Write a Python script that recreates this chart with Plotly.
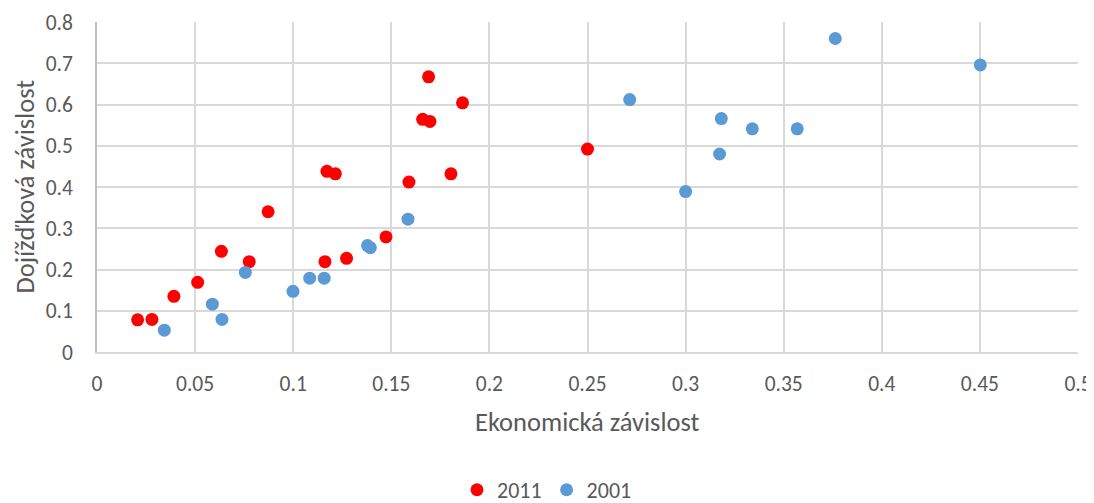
import plotly.graph_objects as go

# 2011 series
x_2011 = [0.0207, 0.0280, 0.0392, 0.0513, 0.0634, 0.0776, 0.0872, 0.1162, 0.1272,
          0.1473, 0.1172, 0.1215, 0.1590, 0.1690, 0.1863, 0.1660, 0.1697, 0.1804, 0.2500]
y_2011 = [0.078, 0.079, 0.135, 0.169, 0.244, 0.219, 0.340, 0.219, 0.227,
          0.279, 0.438, 0.432, 0.412, 0.667, 0.604, 0.564, 0.559, 0.432, 0.492]

# 2001 series
x_2001 = [0.0343, 0.0588, 0.0637, 0.0756, 0.0999, 0.1084, 0.1158, 0.1379, 0.1393,
          0.1585, 0.2715, 0.3000, 0.3173, 0.3182, 0.3340, 0.3569, 0.3763, 0.4502]
y_2001 = [0.053, 0.116, 0.079, 0.193, 0.147, 0.179, 0.179, 0.258, 0.253,
          0.322, 0.612, 0.389, 0.480, 0.566, 0.541, 0.541, 0.760, 0.696]

x_ticks = [0, 0.05, 0.1, 0.15, 0.2, 0.25, 0.3, 0.35, 0.4, 0.45, 0.5]
x_tick_labels = ["0", "0.05", "0.1", "0.15", "0.2", "0.25", "0.3", "0.35", "0.4", "0.45", "0.5"]
y_ticks = [0, 0.1, 0.2, 0.3, 0.4, 0.5, 0.6, 0.7, 0.8]
y_tick_labels = ["0", "0.1", "0.2", "0.3", "0.4", "0.5", "0.6", "0.7", "0.8"]

x_title = "Ekonomická závislost"
y_title = "Dojížďková závislost"

FONT = "Calibri, Lato, 'Open Sans', sans-serif"
GRAY = "#595959"
TICK = 21.5
TITLE = 26.5

fig = go.Figure()
fig.add_trace(go.Scatter(x=x_2011, y=y_2011, mode="markers", name="2011",
                         marker=dict(color="#ff0000", size=13)))
fig.add_trace(go.Scatter(x=x_2001, y=y_2001, mode="markers", name="2001",
                         marker=dict(color="#5b9bd5", size=13)))

fig.update_layout(
    width=1094, height=503,
    margin=dict(l=89, r=24, t=14, b=159, autoexpand=False),
    paper_bgcolor="white", plot_bgcolor="white",
    font=dict(family=FONT, color=GRAY, size=TICK),
    showlegend=True,
    legend=dict(orientation="h", x=0.4587, xanchor="center", y=-0.418, yanchor="middle",
                font=dict(size=22, color=GRAY), itemwidth=30, traceorder="normal"),
    xaxis=dict(range=[0, 0.5], tickvals=x_ticks, ticktext=x_tick_labels,
               showgrid=True, gridcolor="#d9d9d9", gridwidth=1.5,
               zeroline=False, showline=True, linecolor="#d9d9d9", linewidth=1.5,
               ticks="", tickfont=dict(size=TICK, color=GRAY), automargin=False,
               ticklabelstandoff=11),
    yaxis=dict(range=[0, 0.8], tickvals=y_ticks, ticktext=y_tick_labels,
               showgrid=True, gridcolor="#d9d9d9", gridwidth=1.5,
               zeroline=False, showline=True, linecolor="#bfbfbf", linewidth=1.5,
               ticks="", tickfont=dict(size=TICK, color=GRAY), automargin=False,
               ticklabelstandoff=18),
    annotations=[
        dict(text=x_title, xref="paper", yref="paper", x=0.5, y=-70 / 330,
             xanchor="center", yanchor="middle", showarrow=False,
             font=dict(size=TITLE, color=GRAY)),
        dict(text=y_title, xref="paper", yref="paper", x=(16.5 - 89) / 981, y=0.5,
             xanchor="center", yanchor="middle", showarrow=False, textangle=-90,
             font=dict(size=TITLE, color=GRAY)),
    ],
)

fig.write_html("out.html")
